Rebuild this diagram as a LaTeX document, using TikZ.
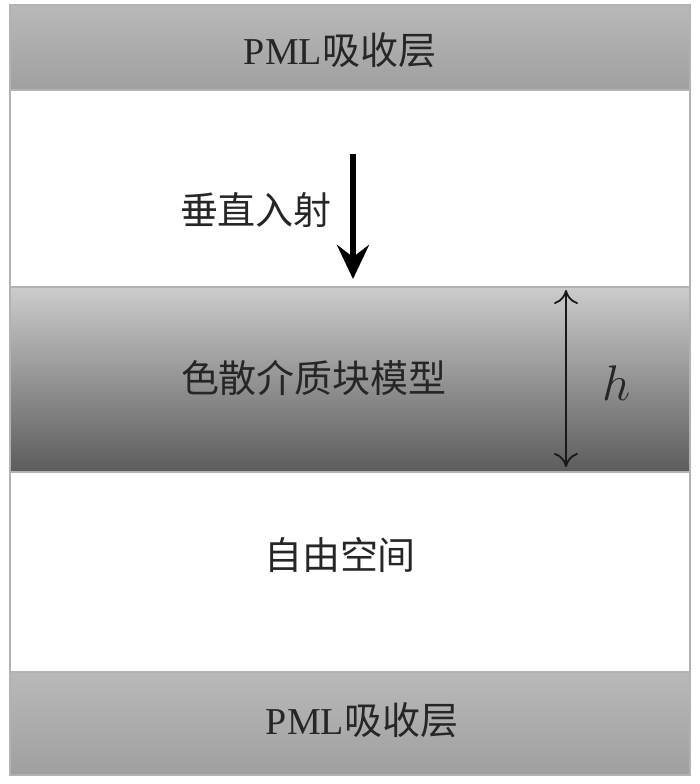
\documentclass[tikz,border=0pt]{standalone}
\usepackage{fontspec}
\usepackage{fix-cm}
\setmainfont{Liberation Serif}
\newfontfamily\cjk{Noto Sans CJK SC}
\usetikzlibrary{arrows.meta}
\tikzset{
  layer/.style={draw=gray!60, line width=1pt},
  pml/.style={layer, top color=gray!55, bottom color=gray!100!black!75},
  slab/.style={layer, top color=gray!40, bottom color=black!64},
  free/.style={layer, fill=white},
  lbl/.style={font=\fontsize{19}{23}\selectfont, text=black!85}
}
\begin{document}
\begin{tikzpicture}[x=0.5pt, y=0.5pt]
  \useasboundingbox (0,0) rectangle (700,784);
  % layers, from top to bottom
  \draw [pml] (10,694) rectangle (690,779);
  \draw [free] (10,497) rectangle (690,694);
  \draw [slab] (10,312) rectangle (690,497);
  \draw [free] (10,112) rectangle (690,312);
  \draw [pml] (10,9) rectangle (690,112);
  % labels
  \node [lbl] (pmltop) at (340,734) {PML{\cjk 吸收层}};
  \node [lbl] (inc) at (256,574) {\cjk 垂直入射};
  \node [lbl] (disp) at (314,406) {\cjk 色散介质块模型};
  \node [lbl] (fs) at (340,229) {\cjk 自由空间};
  \node [lbl] (pmlbot) at (362,64) {PML{\cjk 吸收层}};
  % incidence arrow
  \coordinate (incA) at (353,630);
  \coordinate (incB) at (353,505);
  \draw [line width=2.6pt, -{Stealth[length=17pt, width=16pt, inset=6pt]}] (incA) -- (incB);
  % thickness h
  \coordinate (hA) at (566,494);
  \coordinate (hB) at (566,317);
  \draw [line width=0.9pt, black!90, {To[length=7pt, width=12pt]}-{To[length=7pt, width=12pt]}] (hA) -- (hB);
  \node [lbl, font=\fontsize{25}{30}\selectfont] (hh) at (617,401) {$h$};
\end{tikzpicture}
\end{document}
